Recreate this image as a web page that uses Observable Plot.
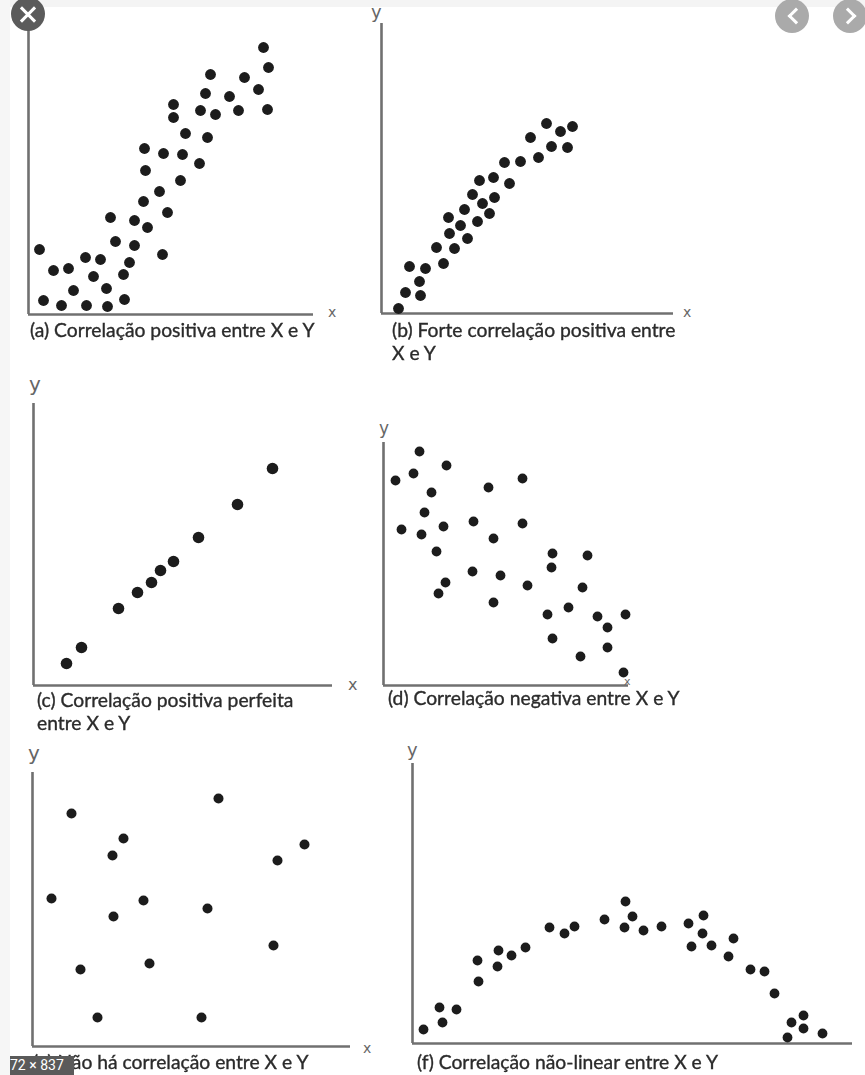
<!DOCTYPE html>
<html><head><meta charset="utf-8">
<script src="https://cdn.jsdelivr.net/npm/d3@7"></script>
<script src="https://cdn.jsdelivr.net/npm/@observablehq/plot@0.6"></script>
<style>
html,body{margin:0;padding:0;background:#fff;}
#page{position:relative;width:865px;height:1075px;overflow:hidden;background:#fff;font-family:Lato,"Open Sans",sans-serif;}
#page svg{position:absolute;overflow:visible;filter:blur(0.5px);}
.cap{position:absolute;font-size:19.3px;line-height:23px;color:#2b2b2b;white-space:nowrap;font-weight:normal;-webkit-text-stroke:0.35px #2b2b2b;filter:blur(0.3px);}
.lab{position:absolute;color:#666;font-size:19px;line-height:20px;font-family:"DejaVu Sans",sans-serif;}
.btn{position:absolute;border-radius:50%;}
.chev{position:absolute;width:9px;height:9px;border-left:3px solid #fff;border-bottom:3px solid #fff;}
.topstrip{position:absolute;left:0;top:0;width:865px;height:7px;background:#f4f4f4;}
.leftstrip{position:absolute;left:0;top:0;width:10px;height:1075px;background:#f6f6f6;}
.badge{position:absolute;left:10px;top:1056px;width:64px;height:19px;background:#5a5a5a;color:#fff;font-size:14px;line-height:19px;font-family:Roboto,sans-serif;white-space:nowrap;overflow:hidden;}
</style></head>
<body><div id="page"><div class="topstrip"></div><div class="leftstrip"></div></div>
<script>
// (a) Correlação positiva
const aX = [235,240,182,216,230,177,201,239,145,145,172,187,210,157,179,116,135,154,171,117,152,131,115,139,82,106,119,87,106,134,11,57,72,25,40,101,65,95,45,78,15,33,58,79,96];
const aY = [267,247,240,237,225,221,218,205,210,197,204,200,204,181,177,166,161,160,151,144,134,123,113,102,97,94,87,73,69,60,65,57,55,44,46,52,38,40,24,26,14,9,9,8,15];
// (b) Forte correlação positiva
const bX = [165,179,191,149,170,186,157,123,139,98,112,128,91,113,101,83,108,67,79,96,68,86,55,73,62,28,44,38,24,39,17];
const bY = [190,182,187,176,167,166,156,151,152,133,136,130,119,116,110,104,100,96,88,92,80,75,66,65,50,47,45,32,21,18,5];
// (c) Correlação positiva perfeita
const cX = [239,204,165,140,127,118,104,85,48,33];
const cY = [217,181,148,124,115,103,93,77,38,22];
// (d) Correlação negativa
const dX = [36,63,12,30,139,105,48,41,90,139,18,38,60,110,53,169,204,168,89,117,62,144,199,55,110,185,164,214,242,224,169,224,197,240];
const dY = [234,220,205,212,207,198,193,173,164,162,156,151,159,147,134,132,130,118,114,110,103,100,98,92,83,78,71,69,71,58,47,38,29,13];
// (e) Não há correlação
const eX = [186,39,91,80,272,245,19,111,81,175,241,48,117,65,169];
const eY = [248,233,208,191,202,186,148,146,130,138,101,77,83,29,29];
// (f) Correlação não-linear
const fX = [213,192,220,212,231,249,137,152,162,276,291,290,279,299,321,316,338,352,362,113,86,99,85,65,66,27,44,30,11,391,379,391,375,410];
const fY = [142,124,127,116,113,117,116,110,117,120,128,110,97,98,105,87,74,72,50,96,93,88,77,83,62,36,34,21,14,28,21,15,6,10];

const captions = {
  a: ["(a) Correlação positiva entre X e Y"],
  b: ["(b) Forte correlação positiva entre", "X e Y"],
  c: ["(c) Correlação positiva perfeita", "entre X e Y"],
  d: ["(d) Correlação negativa entre X e Y"],
  e: ["(e) Não há correlação entre X e Y"],
  f: ["(f) Correlação não-linear entre X e Y"]
};

// layout (page pixels): origin, axis lengths, dot radius, caption position, axis letters
const panels = [
  {key:"a", xs:aX, ys:aY, ox:28, oy:314, xl:285, yl:300, r:5.4, cap:[30,318], xlab:["x",328,302,14], ylab:null},
  {key:"b", xs:bX, ys:bY, ox:381, oy:313, xl:292, yl:290, r:5.4, cap:[392,318], xlab:["x",683,302,14], ylab:["y",371,2,18]},
  {key:"c", xs:cX, ys:cY, ox:33, oy:685, xl:299, yl:282, r:5.8, cap:[37,688], xlab:["x",348,675,16], ylab:["y",29,374,20]},
  {key:"d", xs:dX, ys:dY, ox:383, oy:685, xl:245, yl:243, r:4.9, cap:[388,686], xlab:null, ylab:["y",379,418,17]},
  {key:"e", xs:eX, ys:eY, ox:32, oy:1046, xl:318, yl:274, r:5, cap:[33,1050], xlab:["x",363,1038,14], ylab:["y",28,743,20]},
  {key:"f", xs:fX, ys:fY, ox:412, oy:1043, xl:440, yl:280, r:4.9, cap:[417,1050], xlab:null, ylab:["y",407,740,18]}
];

const page = document.getElementById("page");
const m = 12;
for (const p of panels) {
  const data = p.xs.map((x, i) => ({x, y: p.ys[i]}));
  const chart = Plot.plot({
    width: p.xl + 2*m,
    height: p.yl + 2*m,
    marginLeft: m, marginRight: m, marginTop: m, marginBottom: m,
    x: {domain: [0, p.xl], axis: null},
    y: {domain: [0, p.yl], axis: null},
    style: {background: "transparent"},
    marks: [
      Plot.ruleX([0], {y1: 0, y2: p.yl, stroke: "#707070", strokeWidth: 2.6}),
      Plot.ruleY([0], {x1: 0, x2: p.xl, stroke: "#707070", strokeWidth: 2.6}),
      Plot.dot(data, {x: "x", y: "y", r: p.r, fill: "#1c1c1c", stroke: "none"})
    ]
  });
  chart.style.left = (p.ox - m) + "px";
  chart.style.top = (p.oy - p.yl - m) + "px";
  page.appendChild(chart);

  const cap = document.createElement("div");
  cap.className = "cap";
  cap.style.left = p.cap[0] + "px";
  cap.style.top = p.cap[1] + "px";
  cap.innerHTML = captions[p.key].join("<br>");
  page.appendChild(cap);

  for (const lab of [p.xlab, p.ylab]) {
    if (!lab) continue;
    const el = document.createElement("div");
    el.className = "lab";
    el.textContent = lab[0];
    el.style.left = lab[1] + "px";
    el.style.top = lab[2] + "px";
    el.style.fontSize = lab[3] + "px";
    page.appendChild(el);
  }
}

// small "x" over the X in caption (d)
const xd = document.createElement("div");
xd.className = "lab"; xd.textContent = "x";
xd.style.left = "624px"; xd.style.top = "672px"; xd.style.fontSize = "11px";
page.appendChild(xd);

// viewer overlay buttons
function btn(cx, cy, r, bg) {
  const b = document.createElement("div");
  b.className = "btn";
  b.style.left = (cx - r) + "px"; b.style.top = (cy - r) + "px";
  b.style.width = (2*r) + "px"; b.style.height = (2*r) + "px";
  b.style.background = bg;
  page.appendChild(b);
  return b;
}
const close = btn(28, 14, 17, "#5b5b5b");
for (const a of [45, -45]) {
  const l = document.createElement("div");
  l.style.cssText = "position:absolute;left:7px;top:15.5px;width:20px;height:3px;background:#fff;transform:rotate(" + a + "deg);";
  close.appendChild(l);
}
const prev = btn(792, 16, 17, "#aaaaaa");
const pc = document.createElement("div"); pc.className = "chev";
pc.style.left = "15px"; pc.style.top = "11px"; pc.style.transform = "rotate(45deg)";
prev.appendChild(pc);
const next = btn(850, 16, 17, "#aaaaaa");
const nc = document.createElement("div"); nc.className = "chev";
nc.style.left = "9px"; nc.style.top = "11px"; nc.style.transform = "rotate(-135deg)";
next.appendChild(nc);

const badge = document.createElement("div");
badge.className = "badge";
badge.textContent = "72 × 837";
page.appendChild(badge);
</script>
</body></html>
